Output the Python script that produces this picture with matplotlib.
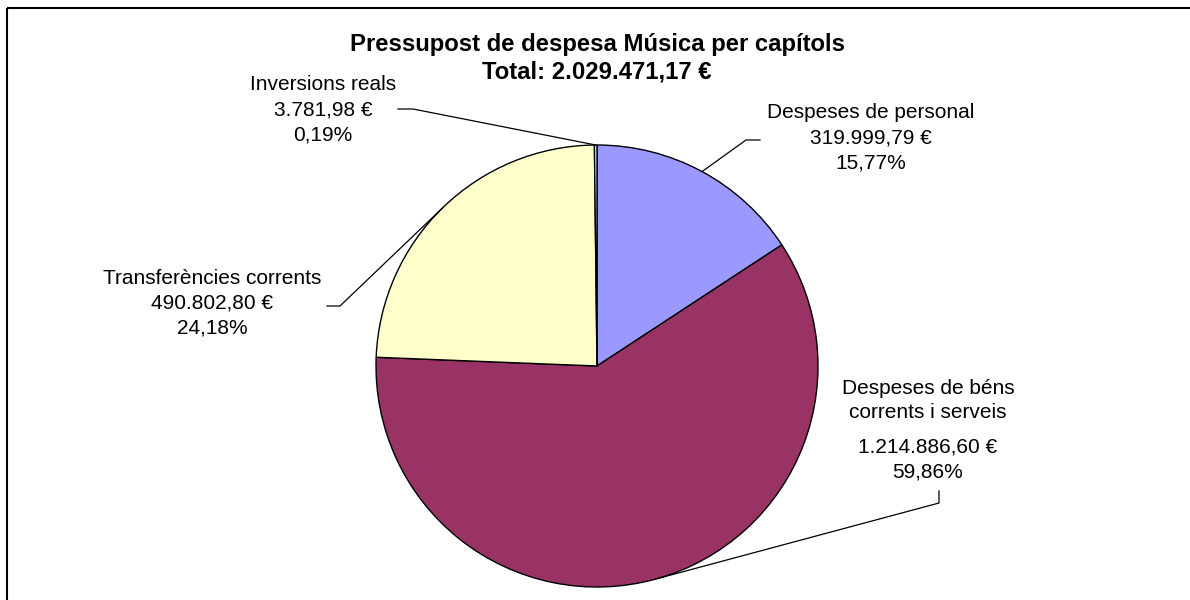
import numpy as np
import matplotlib.pyplot as plt
from matplotlib.patches import Rectangle

plt.rcParams['font.family'] = ['Liberation Sans', 'DejaVu Sans']

# data
capitols = ['Despeses de personal', 'Despeses de béns\ncorrents i serveis',
            'Transferències corrents', 'Inversions reals']
imports = [319999.79, 1214886.60, 490802.80, 3781.98]
import_labels = ['319.999,79 €', '1.214.886,60 €', '490.802,80 €', '3.781,98 €']
pct_labels = ['15,77%', '59,86%', '24,18%', '0,19%']
total_label = 'Total: 2.029.471,17 €'
colors = ['#9999FF', '#993366', '#FFFFCC', '#CCFFFF']

W, H = 1190, 600
fig = plt.figure(figsize=(W / 100, H / 100), dpi=100)

# pie geometry (pixels)
cx, cy, r = 597, 366, 221
ax = fig.add_axes([(cx - r) / W, (H - cy - r) / H, 2 * r / W, 2 * r / H])
wedges, _ = ax.pie(imports, colors=colors, startangle=90, counterclock=False,
                   radius=1, wedgeprops=dict(edgecolor='black', linewidth=1.0))
ax.set_xlim(-1, 1)
ax.set_ylim(-1, 1)
ax.set_aspect('auto')
ax.axis('off')

# overlay in pixel coords
ov = fig.add_axes([0, 0, 1, 1], facecolor='none')
ov.set_xlim(0, W)
ov.set_ylim(H, 0)
ov.axis('off')

ov.add_patch(Rectangle((7, 8), W + 20, H + 20, fill=False, edgecolor='black', lw=1.5))

ov.text(597, 44, 'Pressupost de despesa Música per capítols', ha='center', va='center',
        fontsize=17.2, fontweight='bold')
ov.text(597, 72, total_label, ha='center', va='center', fontsize=17.2, fontweight='bold')

fs = 15
# label layout: text centre x, first line y, elbow, end of leader
layout = [
    dict(x=871, y=113, elbow=(746, 140), end=(760, 140)),
    dict(x=928, y=388, elbow=(939, 503), end=(939, 491)),
    dict(x=212, y=278, elbow=(340, 306), end=(327, 306)),
    dict(x=323, y=85, elbow=(413, 109), end=(398, 109)),
]

for w, name, imp, pct, lay in zip(wedges, capitols, import_labels, pct_labels, layout):
    lines = name.split('\n') + [imp, pct]
    ys = [lay['y'] + 25 * i for i in range(len(lines))]
    if len(lines) == 4:
        ys = [lay['y'], lay['y'] + 25, lay['y'] + 59, lay['y'] + 84]
    for txt, yy in zip(lines, ys):
        ov.text(lay['x'], yy, txt, ha='center', va='center', fontsize=fs)
    ang = np.deg2rad((w.theta1 + w.theta2) / 2)
    px, py = cx + r * np.cos(ang), cy - r * np.sin(ang)
    ov.plot([px, lay['elbow'][0], lay['end'][0]], [py, lay['elbow'][1], lay['end'][1]],
            color='black', lw=0.9)

fig.savefig('out.png', dpi=100, facecolor='white')
